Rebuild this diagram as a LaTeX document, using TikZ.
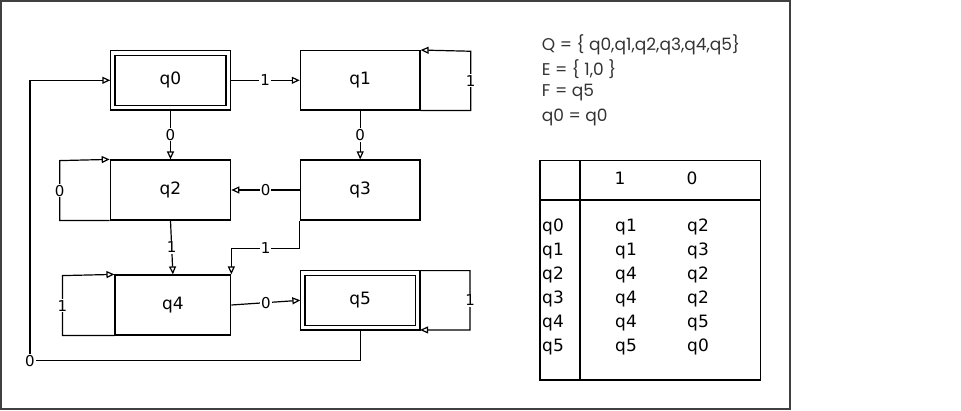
\documentclass[tikz,border=0pt]{standalone}
\usepackage{fontspec}
\setmainfont{DejaVu Sans}
\newfontfamily\handfont{Poppins}
\usetikzlibrary{arrows.meta}
\begin{document}
\begin{tikzpicture}[x=1pt,y=-1pt,
  state/.style={draw, line width=1.2pt, inner sep=0pt, font=\fontsize{17}{20}\selectfont},
  accept/.style={state, double, double distance=3.5pt, outer sep=2.35pt},
  arr/.style={draw, line width=1.2pt, -{Triangle[open,length=8pt,width=7pt]}},
  lbl/.style={fill=white, inner sep=1pt, font=\fontsize{15}{18}\selectfont},
  tcell/.style={anchor=west, inner sep=0pt, font=\fontsize{17}{20}\selectfont},
  hand/.style={anchor=west, inner sep=0pt, font=\handfont\fontsize{17}{20}\selectfont, text=black!80}
]
\useasboundingbox (0,0) rectangle (961,411);
\draw[line width=1.6pt, black!75] (1,1) rectangle (790,409);

% states
\node[accept, minimum width=115.7pt, minimum height=54.6pt] (q0) at (170.5,80.3) {q0};
\node[state, minimum width=119.7pt, minimum height=59.3pt] (q1) at (360.2,80.3) {q1};
\node[state, minimum width=120.4pt, minimum height=60pt] (q2) at (170.5,190) {q2};
\node[state, minimum width=119.7pt, minimum height=60pt] (q3) at (360.2,190) {q3};
\node[state, minimum width=115.7pt, minimum height=60pt] (q4) at (172.9,305) {q4};
\node[accept, minimum width=115pt, minimum height=54.6pt] (q5) at (360.2,300.3) {q5};

% transitions
\draw[arr] (q0.east) -- node[lbl]{1} (q1.west);
\draw[arr] (q1.south east) -- ++(50,0) -- node[lbl]{1} ++(0,-59.3) -- (q1.north east);
\draw[arr] (q0.south) -- node[lbl]{0} (q2.north);
\draw[arr] (q1.south) -- node[lbl]{0} (q3.north);
\draw[arr] (q3.west) -- node[lbl]{0} (q2.east);
\draw[arr] (q2.south west) -- ++(-50,0) -- node[lbl]{0} ++(0,-60) -- (q2.north west);
\draw[arr] (q2.south) -- node[lbl]{1} (q4.north);
\draw[arr] (q3.south west) -- ++(0,27.7) -| node[lbl,pos=0.25]{1} (q4.north east);
\draw[arr] (q4.south west) -- ++(-52,0) -- node[lbl]{1} ++(0,-60) -- (q4.north west);
\draw[arr] (q4.east) -- node[lbl]{0} (q5.west);
\draw[arr] (q5.north east) -- ++(50,0) -- node[lbl]{1} ++(0,59.3) -- (q5.south east);
\coordinate (c5) at (30,360.7);
\draw[arr] (q5.south) |- (c5) node[lbl]{0} -- (c5 |- q0.west) -- (q0.west);

% definitions
\node[hand] (t1) at (541.7,45) {Q = \{ q0,q1,q2,q3,q4,q5\}};
\node[hand] (t2) at (541.7,69) {E = \{ 1,0 \}};
\node[hand] (t3) at (541.7,93) {F = q5};
\node[hand] (t4) at (541.7,117) {q0 = q0};

% table
\node[draw, line width=1.2pt, minimum width=220.3pt, minimum height=219.3pt, inner sep=0pt] (tbl) at (650.2,270.4) {};
\draw[line width=1.2pt] (580,160.7) -- (580,380);
\draw[line width=1.2pt] (540,200) -- (760.3,200);
\node[tcell, anchor=center] (h1) at (620,178) {1};
\node[tcell, anchor=center] (h0) at (692,178) {0};
\foreach \r/\a/\b [count=\i] in {q0/q1/q2, q1/q1/q3, q2/q4/q2, q3/q4/q2, q4/q4/q5, q5/q5/q0} {
  \pgfmathsetmacro\yy{202.7+24*\i}
  \node[tcell] (r\i) at (542,\yy) {\r};
  \node[tcell] (a\i) at (615,\yy) {\a};
  \node[tcell] (b\i) at (687,\yy) {\b};
}
\end{tikzpicture}
\end{document}
